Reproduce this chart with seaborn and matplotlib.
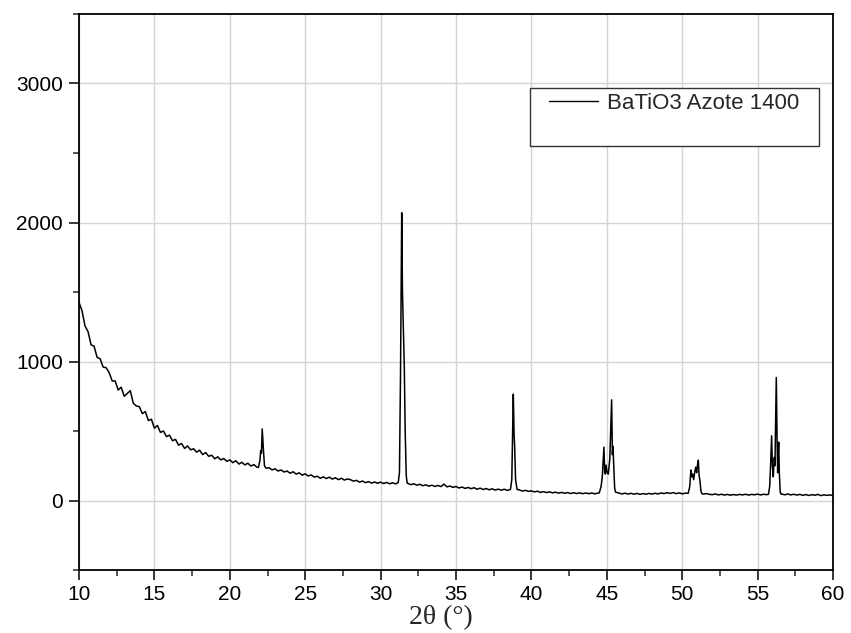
import numpy as np
import pandas as pd
import seaborn as sns
import matplotlib
matplotlib.use("Agg")
import matplotlib.pyplot as plt
from matplotlib.ticker import MultipleLocator
from matplotlib.patches import Rectangle

# ---------------- data ----------------
series_name = "BaTiO3 Azote 1400"

# background scan, sampled every 0.2 degrees from 10 to 60 (251 values)
bg_start, bg_stop, bg_step = 10.0, 60.0, 0.2
bg_intensity = [
    1425, 1365, 1255, 1215, 1120, 1110, 1030, 1020, 960, 955,   # 10.0-11.8
    920, 860, 860, 795, 815, 750, 770, 790, 700, 680,           # 12.0-13.8
    675, 625, 640, 575, 585, 520, 540, 490, 500, 460,           # 14.0-15.8
    470, 430, 440, 398, 410, 375, 392, 365, 372, 348,           # 16.0-17.8
    362, 330, 345, 318, 326, 300, 314, 292, 302, 282,           # 18.0-19.8
    292, 272, 286, 262, 275, 256, 268, 248, 258, 240,           # 20.0-21.8
    245, 240, 235, 236, 220, 228, 212, 220, 205, 212,           # 22.0-23.8
    196, 207, 190, 199, 182, 192, 176, 184, 168, 175,           # 24.0-25.8
    160, 170, 158, 168, 154, 164, 150, 160, 147, 155,           # 26.0-27.8
    150, 139, 145, 132, 140, 128, 136, 125, 133, 124,           # 28.0-29.8
    132, 122, 130, 120, 128, 119, 124, 124, 122, 124,           # 30.0-31.8
    114, 120, 110, 117, 106, 113, 103, 110, 101, 108,           # 32.0-33.8
    100, 118, 98, 104, 94, 101, 90, 97, 87, 94,                 # 34.0-35.8
    85, 92, 81, 89, 79, 86, 77, 84, 75, 82,                     # 36.0-37.8
    74, 81, 73, 79, 77, 70, 76, 68, 73, 66,                     # 38.0-39.8
    69, 62, 67, 58, 64, 57, 62, 55, 60, 53,                     # 40.0-41.8
    58, 52, 57, 50, 56, 50, 55, 49, 54, 49,                     # 42.0-43.8
    54, 48, 53, 51, 51, 51, 51, 51, 50, 54,                     # 44.0-45.8
    47, 53, 46, 52, 45, 51, 44, 50, 45, 51,                     # 46.0-47.8
    46, 52, 47, 54, 50, 56, 51, 57, 49, 55,                     # 48.0-49.8
    48, 53, 50, 50, 50, 50, 50, 46, 50, 44,                     # 50.0-51.8
    42, 47, 40, 45, 39, 44, 38, 43, 39, 44,                     # 52.0-53.8
    40, 45, 39, 44, 41, 46, 40, 45, 42, 43,                     # 54.0-55.8
    43, 43, 43, 46, 41, 47, 40, 45, 39, 44,                     # 56.0-57.8
    37, 43, 36, 42, 38, 44, 35, 41, 37, 40,                     # 58.0-59.8
    36,                                                         # 60.0
]

# diffraction peaks, finer sampling
peak22_theta = [21.9, 22.0, 22.05, 22.1, 22.15, 22.22, 22.3, 22.4]
peak22_int = [238, 290, 360, 340, 515, 380, 250, 232]

peak31_theta = [31.17, 31.25, 31.32, 31.40, 31.45, 31.52, 31.57, 31.63, 31.70, 31.76]
peak31_int = [130, 200, 900, 2070, 1500, 1200, 970, 500, 180, 125]

peak39_theta = [38.62, 38.70, 38.76, 38.80, 38.85, 38.89, 38.95, 39.05]
peak39_int = [85, 150, 500, 765, 480, 390, 150, 80]

peak45_theta = [44.50, 44.62, 44.70, 44.77, 44.81, 44.86, 44.90, 44.95, 45.02,
                45.10, 45.20, 45.27, 45.32, 45.37, 45.41, 45.46, 45.52, 45.58]
peak45_int = [55, 100, 170, 300, 384, 200, 190, 255, 200,
              190, 300, 550, 724, 330, 390, 250, 90, 60]

peak51_theta = [50.40, 50.50, 50.55, 50.58, 50.64, 50.70, 50.76, 50.84,
                50.90, 50.96, 51.02, 51.07, 51.12, 51.18, 51.24, 51.30]
peak51_int = [52, 100, 180, 220, 170, 190, 150, 210,
              240, 200, 260, 290, 180, 140, 70, 50]

peak56_theta = [55.72, 55.80, 55.86, 55.93, 55.98, 56.04, 56.08, 56.11, 56.15,
                56.20, 56.24, 56.29, 56.33, 56.37, 56.40, 56.44, 56.50, 56.56]
peak56_int = [45, 100, 250, 465, 250, 170, 260, 310, 250,
              600, 885, 450, 200, 350, 420, 200, 60, 45]

x_ticks = [10, 15, 20, 25, 30, 35, 40, 45, 50, 55, 60]
y_ticks = [0, 1000, 2000, 3000]

# ---------------- assemble ----------------
bg_theta = np.round(np.arange(bg_start, bg_stop + 1e-6, bg_step), 2)
assert len(bg_theta) == len(bg_intensity)
peaks = [(peak22_theta, peak22_int), (peak31_theta, peak31_int),
         (peak39_theta, peak39_int), (peak45_theta, peak45_int),
         (peak51_theta, peak51_int), (peak56_theta, peak56_int)]
keep = np.ones(len(bg_theta), dtype=bool)
for pt, _ in peaks:
    keep &= ~((bg_theta > min(pt) - 0.01) & (bg_theta < max(pt) + 0.03))
theta = list(bg_theta[keep])
inten = list(np.array(bg_intensity)[keep])
for pt, pi in peaks:
    theta += pt
    inten += pi
df = pd.DataFrame({"theta": theta, "intensity": inten}).sort_values("theta")
df["series"] = series_name

# ---------------- plot ----------------
sns.set_style("white")
plt.rcParams["font.family"] = ["Liberation Sans", "DejaVu Sans"]

fig = plt.figure(figsize=(8.51, 6.33), dpi=100)
L, R, T, B = 79, 833, 14, 570
ax = fig.add_axes([L / 851, 1 - B / 633, (R - L) / 851, (B - T) / 633])

sns.lineplot(data=df, x="theta", y="intensity", hue="series", palette=["black"],
             linewidth=1.1, ax=ax, sort=False, estimator=None, legend=True)

ax.set_xlim(10, 60)
ax.set_ylim(-500, 3500)
ax.set_xticks(x_ticks)
ax.set_yticks(y_ticks)
ax.xaxis.set_minor_locator(MultipleLocator(2.5))
ax.yaxis.set_minor_locator(MultipleLocator(500))
ax.grid(True, which="major", color="#d4d4d4", linewidth=1.0)
ax.set_axisbelow(True)

for s in ax.spines.values():
    s.set_visible(True)
    s.set_color("black")
    s.set_linewidth(1.3)

ax.tick_params(axis="both", which="major", direction="out", length=7.5, width=1.1,
               labelsize=15, colors="black",
               bottom=True, left=True, top=False, right=False)
ax.tick_params(axis="x", which="major", pad=3.5)
ax.tick_params(axis="y", which="major", pad=4)
ax.tick_params(axis="both", which="minor", direction="out", length=4, width=1.1,
               bottom=True, left=True, top=False, right=False)

ax.set_ylabel("")
ax.set_xlabel("2θ (°)", fontsize=20, family=["Liberation Serif", "DejaVu Serif"])
ax.xaxis.set_label_coords((441 - L) / (R - L), (B - 605) / (B - T))
ax.xaxis.label.set_va("top")

# legend: box drawn as a rectangle, entry in its upper part
handles, labels = ax.get_legend_handles_labels()
leg = ax.legend(handles, labels, loc="upper left",
                bbox_to_anchor=((549 - L) / (R - L), (B - 93) / (B - T)),
                frameon=False, fontsize=16, handlelength=2.2,
                handletextpad=0.4, borderaxespad=0, borderpad=0)
for h in leg.get_lines():
    h.set_linewidth(1.0)
box = Rectangle(((530 - L) / (R - L), (B - 146) / (B - T)),
                (819 - 530) / (R - L), (146 - 88) / (B - T),
                transform=ax.transAxes, facecolor="white", edgecolor="#333333",
                linewidth=1.0, zorder=4)
ax.add_patch(box)
leg.set_zorder(5)

fig.savefig("out.png", dpi=100)
